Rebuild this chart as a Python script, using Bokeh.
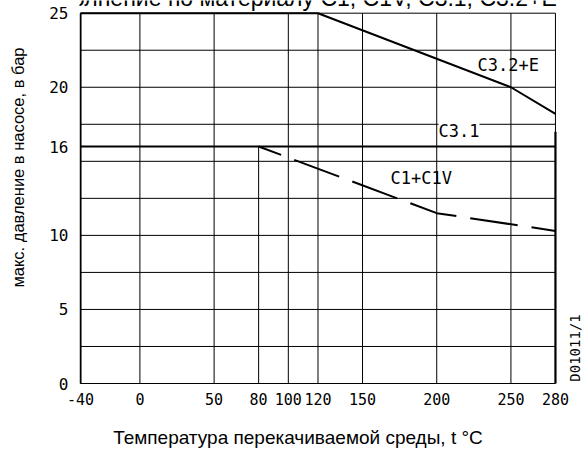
import math
from bokeh.plotting import figure
from bokeh.models import Range1d, FixedTicker, Label, LinearAxis
from bokeh.core.properties import value
from bokeh.embed import file_html
from bokeh.resources import INLINE

# ---- data ----
x_ticks = [-40, 0, 50, 80, 100, 120, 150, 200, 250, 280]
x_tick_labels = ["-40", "0", "50", "80", "100", "120", "150", "200", "250", "280"]
y_ticks = [0, 5, 10, 16, 20, 25]
y_tick_labels = ["0", "5", "10", "16", "20", "25"]
vgrid_t = [-40, 0, 50, 100, 120, 150, 200, 250, 280]
hgrid_p = [0, 2.5, 5, 7.5, 10, 12.5, 15, 17.5, 20, 22.5, 25]
t_min, t_max = -40, 280
p_min, p_max = 0, 25

c32_t = [-40, 120, 250, 280]
c32_p = [25, 25, 20, 18.2]
c31_t = [-40, 280]
c31_p = [16, 16]
c1_t = [80, 200, 280]
c1_p = [16, 11.5, 10.3]

grid80_t = [80, 80]
grid80_p = [0, 16]
left_t = [-40, -40]
left_p = [0, 25]
right_t = [280, 280]
right_p = [0, 17]

title_text = "Исполнение по материалу C1, C1V, C3.1, C3.2+E"
xlabel_text = "Температура перекачиваемой среды, t °C"
ylabel_text = "макс. давление в насосе, в бар"
doc_id_text = "D01011/1"

ISO = "DejaVu Sans Mono"
SANS = "Liberation Sans"

p = figure(width=582, height=450,
           x_range=Range1d(-40.7, 298.22), y_range=Range1d(-0.0675, 25.857),
           output_backend="svg", toolbar_location=None,
           min_border_left=79, min_border_right=0,
           min_border_top=0, min_border_bottom=66)
p.outline_line_color = None
p.background_fill_color = "white"
p.border_fill_color = "white"

# grid lines, limited to the chart field
p.xgrid.grid_line_color = None
p.ygrid.grid_line_color = None
p.segment(x0=vgrid_t, y0=[p_min] * len(vgrid_t), x1=vgrid_t,
          y1=[p_max] * len(vgrid_t), line_color="black", line_width=1)
p.segment(x0=[t_min] * len(hgrid_p), y0=hgrid_p, x1=[t_max] * len(hgrid_p),
          y1=hgrid_p, line_color="black", line_width=1)


def plain(ax, font, size, standoff):
    ax.axis_line_color = None
    ax.major_tick_line_color = None
    ax.minor_tick_line_color = None
    ax.major_tick_out = 0
    ax.major_tick_in = 0
    ax.major_label_text_font = font
    ax.major_label_text_font_size = size
    ax.major_label_text_color = "black"
    ax.major_label_standoff = standoff


# main axes
p.xaxis[0].ticker = FixedTicker(ticks=x_ticks)
p.xaxis[0].major_label_overrides = {t: s for t, s in zip(x_ticks, x_tick_labels)}
plain(p.xaxis[0], ISO, "15px", 8)
p.yaxis[0].ticker = FixedTicker(ticks=y_ticks)
p.yaxis[0].major_label_overrides = {t: s for t, s in zip(y_ticks, y_tick_labels)}
plain(p.yaxis[0], ISO, "16px", 11)

# axis titles, placed at their positions along the axes
xlab_at = [106.5]
ylab_at = [14.58]
xlab_axis = LinearAxis(ticker=FixedTicker(ticks=xlab_at),
                       major_label_overrides={xlab_at[0]: xlabel_text})
plain(xlab_axis, SANS, "19px", 19)
p.add_layout(xlab_axis, "below")

ylab_axis = LinearAxis(ticker=FixedTicker(ticks=ylab_at),
                       major_label_overrides={ylab_at[0]: ylabel_text})
plain(ylab_axis, SANS, "16.5px", 19)
ylab_axis.major_label_orientation = "vertical"
p.add_layout(ylab_axis, "left")

# borders / extra grid
p.line(grid80_t, grid80_p, line_color="black", line_width=1)
p.line(left_t, left_p, line_color="black", line_width=2)
p.line(right_t, right_p, line_color="black", line_width=2.2)

# curves
p.line(c32_t, c32_p, line_color="black", line_width=2)
p.line(c31_t, c31_p, line_color="black", line_width=2)
p.line(c1_t, c1_p, line_color="black", line_width=2,
       line_dash="48 14", line_dash_offset=24)

# curve labels
p.add_layout(Label(x=227.5, y=21.47, text="C3.2+E", text_font=ISO,
                   text_font_size="17px", text_align="left",
                   text_baseline="middle", text_color="black"))
p.add_layout(Label(x=201.2, y=17.08, text="C3.1", text_font=ISO,
                   text_font_size="17px", text_align="left",
                   text_baseline="middle", text_color="black",
                   background_fill_color="white"))
p.add_layout(Label(x=168.9, y=13.84, text="C1+C1V", text_font=ISO,
                   text_font_size="17px", text_align="left",
                   text_baseline="middle", text_color="black"))

# drawing number
p.add_layout(Label(x=293.2, y=2.4, text=doc_id_text, text_font=ISO,
                   text_font_size="14px", text_align="center",
                   text_baseline="middle", angle=math.pi / 2,
                   text_color="black"))

# title (cut by the top edge, as in the source drawing)
p.text(x=[103.9], y=[26.03], text=[title_text], text_font=value(SANS),
       text_font_size="23px", text_align="center",
       text_baseline="alphabetic", text_color="black")

open("out.html", "w").write(file_html(p, INLINE))
